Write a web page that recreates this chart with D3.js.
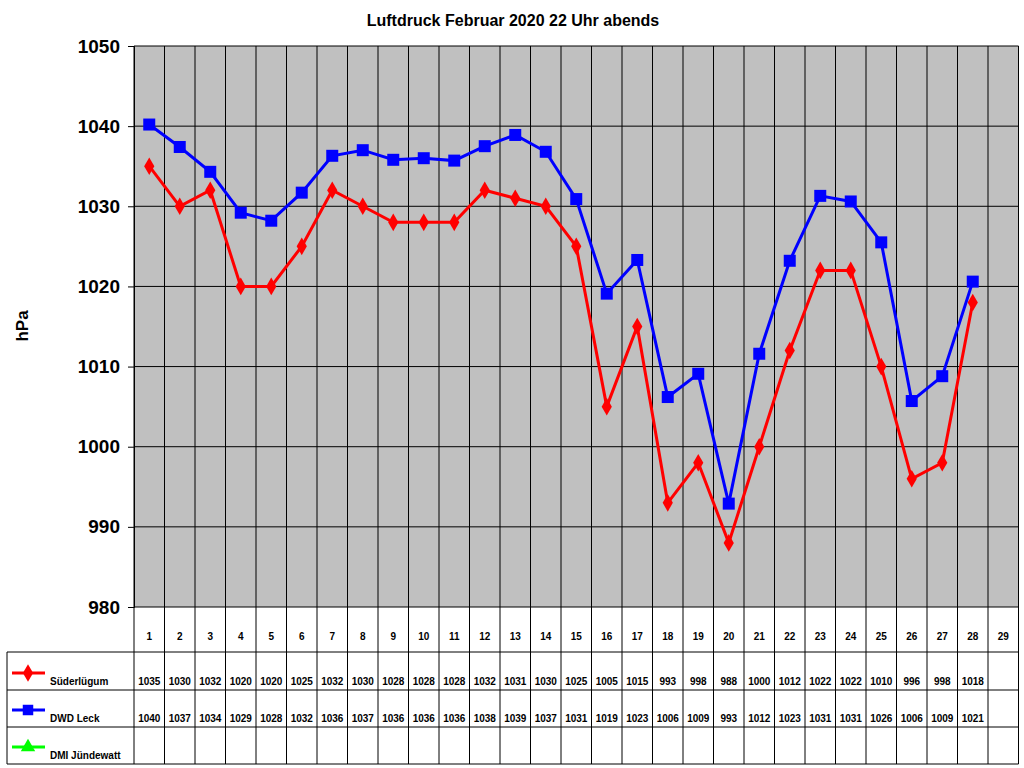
<!DOCTYPE html>
<html><head><meta charset="utf-8">
<script src="https://cdn.jsdelivr.net/npm/d3@7"></script>
<style>body{margin:0;background:#fff}text{font-family:Arial,"Liberation Sans",sans-serif}</style>
</head><body><div id="chart"></div>
<script>
// Day numbers and readings (22 Uhr)
const days = d3.range(1, 30);
const suederluegum = [1035,1030,1032,1020,1020,1025,1032,1030,1028,1028,1028,1032,1031,1030,1025,1005,1015,993,998,988,1000,1012,1022,1022,1010,996,998,1018];
const dwdLeck = [1040.2,1037.4,1034.3,1029.2,1028.2,1031.7,1036.3,1037.0,1035.8,1036.0,1035.7,1037.5,1038.9,1036.8,1030.9,1019.1,1023.3,1006.2,1009.1,992.9,1011.6,1023.2,1031.3,1030.6,1025.5,1005.7,1008.8,1020.6];
const dwdLabels = [1040,1037,1034,1029,1028,1032,1036,1037,1036,1036,1036,1038,1039,1037,1031,1019,1023,1006,1009,993,1012,1023,1031,1031,1026,1006,1009,1021];
const yTicks = [980,990,1000,1010,1020,1030,1040,1050];

const svg = d3.select("#chart").append("svg").attr("width", 1024).attr("height", 768);
const pLeft = 134, pRight = 1018.5, pTop = 46, pBottom = 607;

const x = d3.scaleBand().domain(days).range([pLeft, pRight]);
const y = d3.scaleLinear().domain([980, 1050]).range([pBottom, pTop]);

svg.append("text").attr("x", 513).attr("y", 26).attr("text-anchor", "middle")
  .style("font-size", "16px").style("font-weight", "bold").text("Luftdruck Februar 2020 22 Uhr abends");

svg.append("rect").attr("x", pLeft).attr("y", pTop).attr("width", pRight - pLeft).attr("height", pBottom - pTop).attr("fill", "#c0c0c0");

// grid
svg.selectAll(".hg").data(yTicks).enter().append("line")
  .attr("x1", pLeft).attr("x2", pRight).attr("y1", d => y(d)).attr("y2", d => y(d)).attr("stroke", "#000");
svg.selectAll(".vg").data(days.concat([30])).enter().append("line")
  .attr("x1", d => d === 30 ? pRight : x(d)).attr("x2", d => d === 30 ? pRight : x(d))
  .attr("y1", pTop).attr("y2", 764).attr("stroke", "#000");

// y axis
const ya = svg.append("g").attr("transform", `translate(${pLeft},0)`)
  .call(d3.axisLeft(y).tickValues(yTicks).tickSize(6).tickFormat(d3.format("d")));
ya.select(".domain").attr("stroke", "#000");
ya.selectAll("text").style("font-size", "19px").style("font-weight", "bold").attr("x", -14);
svg.append("text").attr("transform", "translate(28,326) rotate(-90)").attr("text-anchor", "middle")
  .style("font-size", "17px").style("font-weight", "bold").text("hPa");

// table
const rows = [652, 690, 727, 764];
rows.forEach(r => svg.append("line").attr("x1", 7).attr("x2", pRight)
  .attr("y1", r).attr("y2", r).attr("stroke", "#000"));
svg.append("line").attr("x1", 7).attr("x2", 7).attr("y1", 652).attr("y2", 764).attr("stroke", "#000");
svg.selectAll(".dl").data(days).enter().append("text")
  .attr("x", d => x(d) + x.bandwidth() / 2).attr("y", 640).attr("text-anchor", "middle")
  .style("font-size", "10px").style("font-weight", "bold").text(d => d);
function tableRow(vals, yy) {
  svg.append("g").selectAll("text").data(vals).enter().append("text")
    .attr("x", (d, i) => x(days[i]) + x.bandwidth() / 2).attr("y", yy).attr("text-anchor", "middle")
    .style("font-size", "10px").style("font-weight", "bold").text(d => d);
}
tableRow(suederluegum, 685);
tableRow(dwdLabels, 722);

// legend
const legend = [["Süderlügum", "#ff0000", d3.symbolDiamond, 673, 685], ["DWD Leck", "#0000ff", d3.symbolSquare, 710, 722], ["DMI Jündewatt", "#00ff00", d3.symbolTriangle, 747, 759]];
legend.forEach(([name, c, sym, ly, ty]) => {
  svg.append("line").attr("x1", 12).attr("x2", 45).attr("y1", ly).attr("y2", ly).attr("stroke", c).attr("stroke-width", 3);
  svg.append("path").attr("d", d3.symbol().type(sym).size(sym === d3.symbolSquare ? 110 : 90)()).attr("transform", `translate(28,${ly})`).attr("fill", c);
  svg.append("text").attr("x", 50).attr("y", ty).style("font-size", "10px").style("font-weight", "bold").text(name);
});

// series
const cx = i => x(days[i]) + x.bandwidth() / 2;
const line = d3.line().x((d, i) => cx(i)).y(d => y(d));
svg.append("path").datum(suederluegum).attr("d", line).attr("fill", "none").attr("stroke", "#ff0000").attr("stroke-width", 3);
svg.append("path").datum(dwdLeck).attr("d", line).attr("fill", "none").attr("stroke", "#0000ff").attr("stroke-width", 3);
svg.selectAll(".sm").data(suederluegum).enter().append("path")
  .attr("d", d3.symbol().type(d3.symbolDiamond).size(90)()).attr("transform", (d, i) => `translate(${cx(i)},${y(d)})`).attr("fill", "#ff0000");
svg.selectAll(".dm").data(dwdLeck).enter().append("rect")
  .attr("x", (d, i) => cx(i) - 6).attr("y", d => y(d) - 6).attr("width", 12).attr("height", 12).attr("fill", "#0000ff");
</script></body></html>
